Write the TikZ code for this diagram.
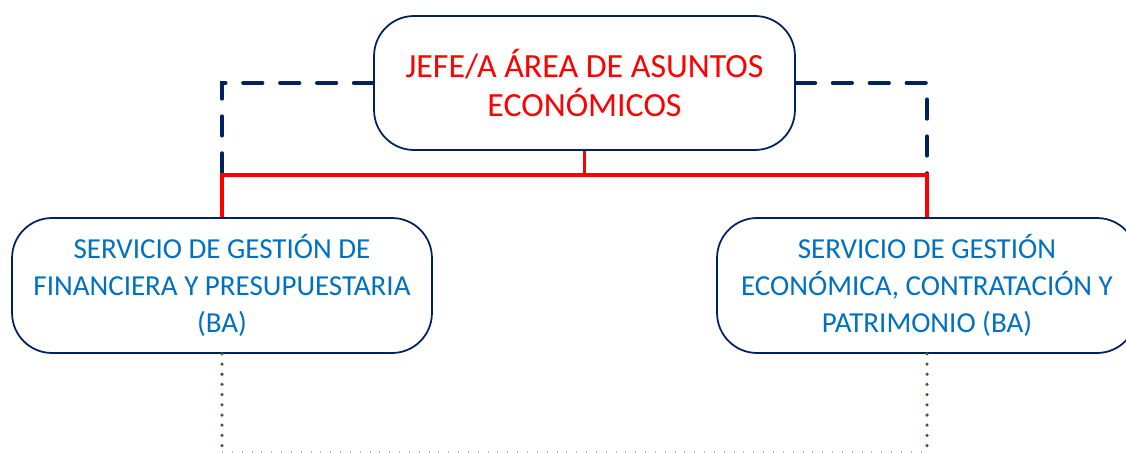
\documentclass[tikz,border=0pt]{standalone}
\usepackage{fontspec}
\setmainfont{Carlito}
\definecolor{navy}{HTML}{002060}
\definecolor{jefered}{HTML}{FF0000}
\definecolor{servblue}{HTML}{0070C0}
\definecolor{dotgreen}{HTML}{3B5E2B}
\begin{document}
\begin{tikzpicture}
        [x=0.02cm, y=-0.02cm,
        box/.style={draw=navy, line width=1pt, rounded corners=0.8cm, align=center, inner sep=0pt},
        boxTop/.style={box, minimum width=8.42cm, minimum height=2.68cm, text=jefered, font=\fontsize{19.3}{22.7}\selectfont},
        boxServ/.style={box, minimum width=8.4cm, minimum height=2.7cm, text=servblue, font=\fontsize{16.5}{21}\selectfont},
        dashLine/.style={draw=navy, line width=2.2pt, dash pattern=on 11pt off 10pt, line cap=round},
        redLine/.style={draw=jefered, line width=1.8pt},
        dotLine/.style={draw=dotgreen, line width=2pt, dash pattern=on 0pt off 5.8pt, line cap=round}]
        \useasboundingbox (0,0) rectangle (1126,453);
        \begin{scope}
        \clip (0,0) rectangle (1126,453);
        \node[boxTop] (J) at (584.5,83) {JEFE/A ÁREA DE ASUNTOS\\ECONÓMICOS};
        \node[boxServ] (F) at (222,285.5) {SERVICIO DE GESTIÓN DE\\FINANCIERA Y PRESUPUESTARIA\\(BA)};
        \node[boxServ] (E) at (927,285.5) {SERVICIO DE GESTIÓN\\ECONÓMICA, CONTRATACIÓN Y\\PATRIMONIO (BA)};
        \coordinate (R) at (584.5,175);
        \coordinate (FB) at (222,452);
        \coordinate (EB) at (927,452);

        \draw[dashLine] (J.west) -| (F.north);
        \draw[dashLine] (J.east) -| (E.north);
        \draw[redLine] (J.south) -- (R);
        \draw[redLine] (R) -| (F.north);
        \draw[redLine] (R) -| (E.north);
        \draw[dotLine] (F.south) -- (FB);
        \draw[dotLine] (E.south) -- (EB);
        \draw[draw=dotgreen!40, line width=0.8pt, dash pattern=on 0.1pt off 5.5pt] (FB) -- (EB);
        \end{scope}
\end{tikzpicture}
\end{document}
